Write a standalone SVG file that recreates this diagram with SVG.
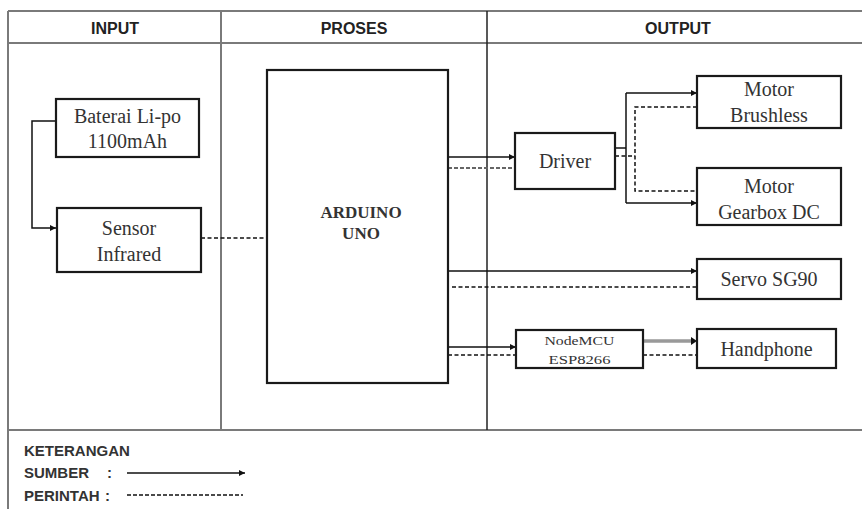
<svg xmlns="http://www.w3.org/2000/svg" width="862" height="509" viewBox="0 0 862 509">
<style>
.grid{stroke:#7a7a7a;stroke-width:2;fill:none}
.vline{stroke:#222;stroke-width:1.5;fill:none}
.box{fill:#fff;stroke:#1a1a1a;stroke-width:2.2}
.hdr{font-family:"Liberation Sans",Arial,sans-serif;font-weight:bold;font-size:16px;fill:#222;text-anchor:middle}
.lbl{font-family:"Liberation Serif","Times New Roman",serif;font-size:20px;fill:#333;text-anchor:middle}
.leg{font-family:"Liberation Sans",Arial,sans-serif;font-weight:bold;font-size:15px;fill:#333}
.solid{stroke:#111;stroke-width:1.5;fill:none}
.dash{stroke:#111;stroke-width:1.5;fill:none;stroke-dasharray:4 2.5}
.dashg{stroke:#666;stroke-width:2;fill:none;stroke-dasharray:4 2}
</style>
<defs>
<marker id="arr" viewBox="0 0 10 10" refX="10" refY="5" markerWidth="6" markerHeight="6" markerUnits="userSpaceOnUse" orient="auto">
<path d="M0,0 L10,5 L0,10 z" fill="#111"/>
</marker>
</defs>
<rect width="862" height="509" fill="#fff"/>
<g id="table">
<line class="grid" x1="8" y1="11" x2="862" y2="11"/>
<line class="grid" x1="8" y1="43" x2="862" y2="43"/>
<line class="grid" x1="8" y1="430" x2="862" y2="430"/>
<line class="grid" x1="8" y1="11" x2="8" y2="509"/>
<line class="grid" x1="221" y1="11" x2="221" y2="430"/>
<line class="vline" x1="487" y1="11" x2="487" y2="430"/>
<text class="hdr" x="115" y="34">INPUT</text>
<text class="hdr" x="354" y="34">PROSES</text>
<text class="hdr" x="678" y="34">OUTPUT</text>
</g>
<g id="connectors">
<polyline class="solid" points="56,121 32,121 32,228 56,228" marker-end="url(#arr)"/>
<line class="dash" x1="201" y1="238" x2="267" y2="238"/>
<line class="solid" x1="448" y1="157" x2="515" y2="157" marker-end="url(#arr)"/>
<line class="dashg" x1="448" y1="168" x2="515" y2="168"/>
<line class="solid" x1="615" y1="148" x2="626" y2="148"/>
<line class="solid" x1="626" y1="93" x2="626" y2="203"/>
<line class="solid" x1="626" y1="93" x2="697" y2="93" marker-end="url(#arr)"/>
<line class="solid" x1="626" y1="203" x2="697" y2="203" marker-end="url(#arr)"/>
<line class="dash" x1="615" y1="156" x2="635" y2="156"/>
<polyline class="dash" points="697,107 635,107 635,191 697,191"/>
<line class="solid" x1="448" y1="271" x2="697" y2="271" marker-end="url(#arr)"/>
<line class="dash" x1="452" y1="287" x2="697" y2="287"/>
<line class="solid" x1="448" y1="347" x2="516" y2="347" marker-end="url(#arr)"/>
<line class="dash" x1="448" y1="355" x2="516" y2="355"/>
<line x1="643" y1="341" x2="692" y2="341" stroke="#999" stroke-width="3.5"/>
<path d="M691,337 L697,341 L691,345 z" fill="#111"/>
<line class="dash" x1="643" y1="355" x2="697" y2="355"/>
</g>
<g id="baterai">
<rect class="box" x="56" y="99" width="143" height="58"/>
<text class="lbl" x="127.5" y="123">Baterai Li-po</text>
<text class="lbl" x="127.5" y="148">1100mAh</text>
</g>
<g id="sensor">
<rect class="box" x="57" y="208" width="144" height="64"/>
<text class="lbl" x="129" y="235">Sensor</text>
<text class="lbl" x="129" y="261">Infrared</text>
</g>
<g id="arduino">
<rect class="box" x="267" y="70" width="181" height="313"/>
<text class="lbl" x="361" y="218" style="font-weight:bold;font-size:17px">ARDUINO</text>
<text class="lbl" x="361" y="239" style="font-weight:bold;font-size:17px">UNO</text>
</g>
<g id="driver">
<rect class="box" x="515" y="133" width="100" height="56"/>
<text class="lbl" x="565" y="168">Driver</text>
</g>
<g id="motor-brushless">
<rect class="box" x="697" y="76" width="144" height="52"/>
<text class="lbl" x="769" y="96">Motor</text>
<text class="lbl" x="769" y="122">Brushless</text>
</g>
<g id="motor-gearbox">
<rect class="box" x="697" y="168" width="144" height="57"/>
<text class="lbl" x="769" y="193">Motor</text>
<text class="lbl" x="769" y="219">Gearbox DC</text>
</g>
<g id="servo">
<rect class="box" x="697" y="259" width="144" height="40"/>
<text class="lbl" x="769" y="286">Servo SG90</text>
</g>
<g id="nodemcu">
<rect class="box" x="516" y="330" width="127" height="38"/>
<text class="lbl" x="579.5" y="345" style="font-size:12px" textLength="70" lengthAdjust="spacingAndGlyphs">NodeMCU</text>
<text class="lbl" x="579.5" y="364" style="font-size:12px" textLength="62" lengthAdjust="spacingAndGlyphs">ESP8266</text>
</g>
<g id="handphone">
<rect class="box" x="697" y="329" width="139" height="39"/>
<text class="lbl" x="766.5" y="356">Handphone</text>
</g>
<g id="legend">
<text class="leg" x="24" y="456">KETERANGAN</text>
<text class="leg" x="24" y="478">SUMBER</text>
<text class="leg" x="107" y="478">:</text>
<text class="leg" x="24" y="501">PERINTAH</text>
<text class="leg" x="105" y="501">:</text>
<line class="solid" x1="127" y1="473" x2="245" y2="473" marker-end="url(#arr)"/>
<line class="solid" x1="127" y1="495" x2="243" y2="495" style="stroke-dasharray:4 2"/>
</g>
</svg>
